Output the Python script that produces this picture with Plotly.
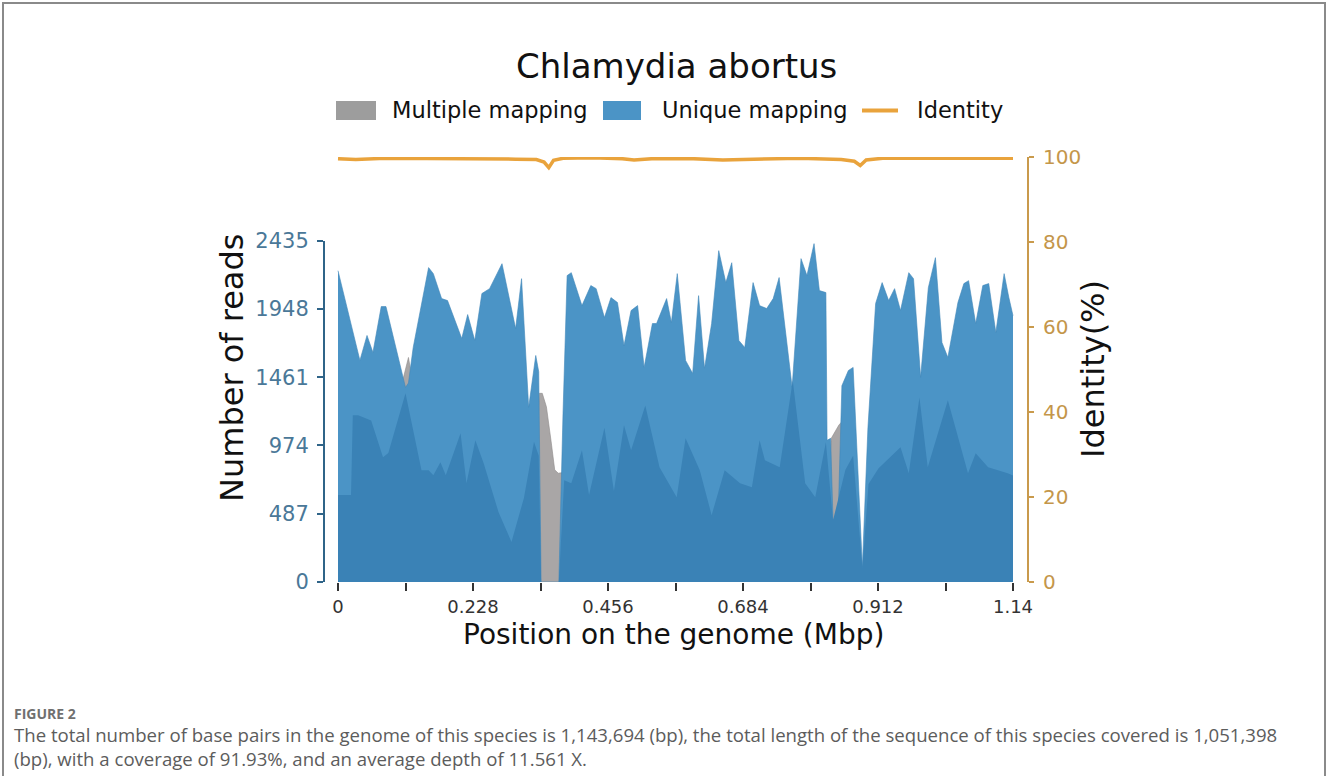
import plotly.graph_objects as go

# ---------------- data ----------------
unique_pos = [0.0, 0.037, 0.049, 0.059, 0.073, 0.081, 0.114, 0.119, 0.127, 0.153,
              0.161, 0.175, 0.185, 0.209, 0.219, 0.231, 0.243, 0.256, 0.277, 0.300,
              0.310, 0.322, 0.334, 0.339, 0.343, 0.373, 0.380, 0.387, 0.394, 0.412,
              0.427, 0.436, 0.450, 0.461, 0.472, 0.483, 0.495, 0.506, 0.517, 0.531,
              0.538, 0.555, 0.563, 0.573, 0.587, 0.599, 0.609, 0.619, 0.631, 0.643,
              0.655, 0.665, 0.677, 0.687, 0.701, 0.712, 0.724, 0.735, 0.745, 0.755,
              0.767, 0.782, 0.792, 0.804, 0.813, 0.824, 0.826, 0.832, 0.836, 0.845,
              0.851, 0.862, 0.870, 0.8856, 0.895, 0.908, 0.919, 0.930, 0.940, 0.950,
              0.964, 0.972, 0.984, 0.997, 1.009, 1.020, 1.030, 1.047, 1.057, 1.065,
              1.077, 1.089, 1.099, 1.111, 1.125, 1.133, 1.14]
unique_reads = [2221, 1581, 1759, 1638, 1965, 1965, 1388, 1420, 1673, 2243,
                2200, 2022, 2008, 1737, 1908, 1723, 2058, 2093, 2271, 1808,
                2164, 1246, 1616, 1500, 0, 0, 1200, 2186, 2207, 1972,
                2115, 2093, 1887, 2029, 1994, 1687, 1937, 1972, 1531, 1844,
                1844, 2022, 1851, 2200, 1581, 1488, 2043, 1524, 1844, 2364,
                2136, 2278, 1723, 1673, 2136, 1972, 1951, 2022, 2172, 1794,
                1388, 2307, 2186, 2414, 2079, 2065, 1011, 1025, 440, 500,
                1400, 1509, 1531, 107, 1100, 1987, 2136, 2008, 2093, 1937,
                2207, 2164, 1460, 2100, 2314, 1709, 1602, 1994, 2129, 2150,
                1844, 2115, 2129, 1780, 2200, 2029, 1900]

# darker inner layer of the unique-mapping area
core_pos = [0.0, 0.022, 0.025, 0.034, 0.056, 0.076, 0.085, 0.114, 0.141, 0.153,
            0.161, 0.173, 0.182, 0.207, 0.217, 0.232, 0.246, 0.271, 0.293, 0.314,
            0.331, 0.339, 0.343, 0.373, 0.382, 0.394, 0.412, 0.424, 0.450, 0.466,
            0.483, 0.495, 0.519, 0.543, 0.572, 0.587, 0.611, 0.631, 0.653, 0.679,
            0.699, 0.712, 0.721, 0.746, 0.768, 0.789, 0.806, 0.824, 0.836, 0.857,
            0.870, 0.8856, 0.896, 0.913, 0.950, 0.964, 0.982, 0.996, 1.030, 1.064,
            1.077, 1.098, 1.131, 1.14]
core_reads = [620, 620, 1189, 1189, 1153, 890, 920, 1346, 797, 797,
              762, 854, 762, 1061, 705, 1011, 847, 500, 285, 600,
              1000, 900, 0, 0, 726, 705, 940, 620, 1100, 650,
              1118, 940, 1260, 819, 605, 1025, 797, 477, 797, 705,
              676, 1011, 869, 819, 1438, 705, 605, 997, 440, 800,
              900, 100, 700, 812, 961, 776, 1317, 819, 1296, 776,
              918, 819, 776, 760]

multi_pos = [0.0, 0.100, 0.110, 0.119, 0.127, 0.140, 0.330, 0.340, 0.345, 0.352,
             0.360, 0.366, 0.372, 0.378, 0.385, 0.395, 0.800, 0.826, 0.833, 0.846,
             0.853, 0.858, 0.866, 0.880, 0.886]
multi_reads = [300, 300, 1450, 1602, 1400, 300, 300, 1346, 1346, 1250,
               1000, 800, 776, 780, 700, 300, 300, 560, 1025, 1120,
               1153, 900, 400, 150, 0]

identity_pos = [0.0, 0.03, 0.08, 0.15, 0.22, 0.30, 0.335, 0.348, 0.356, 0.364,
                0.38, 0.43, 0.48, 0.50, 0.53, 0.60, 0.65, 0.70, 0.74, 0.78,
                0.85, 0.872, 0.882, 0.892, 0.92, 1.0, 1.14]
identity_pct = [99.6, 99.4, 99.7, 99.7, 99.6, 99.5, 99.4, 98.8, 97.5, 99.2,
                99.7, 99.8, 99.6, 99.3, 99.6, 99.6, 99.3, 99.4, 99.6, 99.7,
                99.4, 99.0, 98.0, 99.3, 99.7, 99.7, 99.7]

x_tickvals = [0, 0.228, 0.456, 0.684, 0.912, 1.14]
x_ticktext = ["0", "0.228", "0.456", "0.684", "0.912", "1.14"]
reads_ticks = [0, 487, 974, 1461, 1948, 2435]
identity_ticks = [0, 20, 40, 60, 80, 100]

caption_lines = [
    "The total number of base pairs in the genome of this species is 1,143,694 (bp), "
    "the total length of the sequence of this species covered is 1,051,398",
    "(bp), with a coverage of 91.93%, and an average depth of 11.561 X.",
]

# ---------------- styling ----------------
W, H = 1328, 776
ML, MR, MT, MB = 325, 301, 157, 194
PW, PH = W - ML - MR, H - MT - MB
FONT = "DejaVu Sans"

GRAY = "#a9a6a6"
BLUE = "#4b94c6"
BLUE_DARK = "#3a82b6"
ORANGE = "#e9a33c"
LEFT_AX = "#2f6488"
LEFT_TXT = "#4a7898"
RIGHT_AX = "#c99a4c"
RIGHT_TXT = "#c4964a"


def px(xp):
    return (xp - ML) / PW


def py(yp):
    return (H - MB - yp) / PH


fig = go.Figure()

fig.add_trace(go.Scatter(
    x=multi_pos, y=multi_reads, name="Multiple mapping", mode="lines",
    fill="tozeroy", fillcolor=GRAY, line=dict(color="#8f8c8c", width=0.6),
    xaxis="x", yaxis="y", showlegend=False, hoverinfo="skip"))
fig.add_trace(go.Scatter(
    x=unique_pos, y=unique_reads, name="Unique mapping", mode="lines",
    fill="tozeroy", fillcolor=BLUE, line=dict(color="#3f86b9", width=0.6),
    xaxis="x", yaxis="y", showlegend=False))
fig.add_trace(go.Scatter(
    x=core_pos, y=core_reads, name="Unique mapping (core)", mode="lines",
    fill="tozeroy", fillcolor=BLUE_DARK, line=dict(color=BLUE_DARK, width=0),
    xaxis="x", yaxis="y", showlegend=False))
fig.add_trace(go.Scatter(
    x=identity_pos, y=identity_pct, name="Identity", mode="lines",
    line=dict(color=ORANGE, width=3.5), xaxis="x", yaxis="y2", showlegend=False))

x_left = 0 - 13 / 592.1
x_right = 1.14 + 14 / 592.1
left_top = (H - MB - 240.7) / PH

fig.update_layout(
    width=W, height=H,
    margin=dict(l=ML, r=MR, t=MT, b=MB, pad=0),
    paper_bgcolor="white", plot_bgcolor="rgba(0,0,0,0)",
    font=dict(family=FONT, color="#222"),
    showlegend=False,
    xaxis=dict(
        domain=[0, 1], range=[x_left, x_right], anchor="y",
        showline=False, showgrid=False, zeroline=False,
        tickmode="array", tickvals=x_tickvals, ticktext=x_ticktext,
        ticks="outside", ticklen=8, tickwidth=1.5, tickcolor="#333",
        tickfont=dict(family=FONT, size=18, color="#333"),
        minor=dict(ticks="outside", tick0=0, dtick=0.114, ticklen=8,
                   tickwidth=1.5, tickcolor="#333"),
    ),
    yaxis=dict(
        domain=[0, left_top], range=[0, 2435], anchor="x", side="left",
        showline=True, linecolor=LEFT_AX, linewidth=2,
        showgrid=False, zeroline=False,
        tickmode="array", tickvals=reads_ticks,
        ticks="outside", ticklen=6, tickwidth=1.5, tickcolor=LEFT_AX,
        tickfont=dict(family=FONT, size=21, color=LEFT_TXT),
        ticklabelstandoff=4,
    ),
    yaxis2=dict(
        domain=[0, 1], range=[0, 100], anchor="x", side="right",
        showline=True, linecolor=RIGHT_AX, linewidth=2,
        showgrid=False, zeroline=False,
        tickmode="array", tickvals=identity_ticks,
        ticks="outside", ticklen=5, tickwidth=1.5, tickcolor=RIGHT_AX,
        tickfont=dict(family=FONT, size=20, color=RIGHT_TXT),
        ticklabelstandoff=5,
    ),
)

shapes = [
    # figure frame
    dict(type="rect", xref="paper", yref="paper",
         x0=px(3), x1=px(1325), y0=py(3), y1=py(800),
         line=dict(color="#8a8a8a", width=2), fillcolor="rgba(0,0,0,0)", layer="below"),
    # legend keys
    dict(type="rect", xref="paper", yref="paper",
         x0=px(336), x1=px(376), y0=py(101), y1=py(120),
         line=dict(width=0), fillcolor="#9d9d9d"),
    dict(type="rect", xref="paper", yref="paper",
         x0=px(603), x1=px(641), y0=py(101), y1=py(120),
         line=dict(width=0), fillcolor=BLUE),
    dict(type="line", xref="paper", yref="paper",
         x0=px(862), x1=px(898), y0=py(110.5), y1=py(110.5),
         line=dict(color=ORANGE, width=4)),
]

annotations = [
    dict(text="Chlamydia abortus", x=px(676), y=py(66), xref="paper", yref="paper",
         xanchor="center", yanchor="middle", showarrow=False,
         font=dict(family=FONT, size=34, color="#111")),
    dict(text="Multiple mapping", x=px(390), y=py(110), xref="paper", yref="paper",
         xanchor="left", yanchor="middle", showarrow=False,
         font=dict(family=FONT, size=22.5, color="#111")),
    dict(text="Unique mapping", x=px(660), y=py(110), xref="paper", yref="paper",
         xanchor="left", yanchor="middle", showarrow=False,
         font=dict(family=FONT, size=22.5, color="#111")),
    dict(text="Identity", x=px(915), y=py(110), xref="paper", yref="paper",
         xanchor="left", yanchor="middle", showarrow=False,
         font=dict(family=FONT, size=22.5, color="#111")),
    dict(text="Number of reads", x=px(232), y=py(368), xref="paper", yref="paper",
         xanchor="center", yanchor="middle", showarrow=False, textangle=-90,
         font=dict(family=FONT, size=32, color="#111")),
    dict(text="Identity(%)", x=px(1093), y=py(369), xref="paper", yref="paper",
         xanchor="center", yanchor="middle", showarrow=False, textangle=-90,
         font=dict(family=FONT, size=32, color="#111")),
    dict(text="Position on the genome (Mbp)", x=px(673), y=py(634), xref="paper",
         yref="paper", xanchor="center", yanchor="middle", showarrow=False,
         font=dict(family=FONT, size=28, color="#111")),
    dict(text="<b>FIGURE 2</b>", x=px(12), y=py(713), xref="paper", yref="paper",
         xanchor="left", yanchor="middle", showarrow=False,
         font=dict(family="Open Sans", size=14, color="#707070")),
    dict(text="<br>".join(caption_lines),
         x=px(12), y=py(746.5), xref="paper", yref="paper",
         xanchor="left", yanchor="middle", align="left", showarrow=False,
         font=dict(family="Open Sans", size=18.6, color="#5c5c5c")),
]

fig.update_layout(shapes=shapes, annotations=annotations)

fig.write_html(
    "out.html",
    config={"displayModeBar": False},
    post_script="document.body.style.margin='0px';document.body.style.overflow='hidden';",
)
